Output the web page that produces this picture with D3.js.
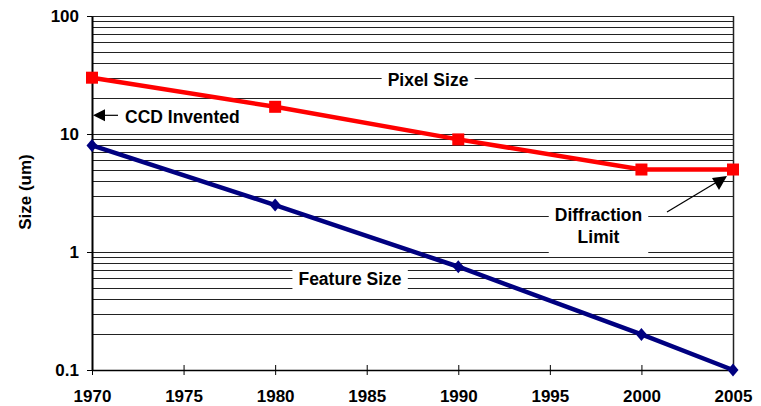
<!DOCTYPE html>
<html>
<head>
<meta charset="utf-8">
<script src="https://cdn.jsdelivr.net/npm/d3@7/dist/d3.min.js"></script>
<style>
  html, body { margin: 0; padding: 0; background: #fff; }
  svg { display: block; font-family: "Liberation Sans", Arial, sans-serif; font-weight: bold; }
</style>
</head>
<body>
<svg id="chart" width="761" height="406"></svg>
<script>
// Years on the x axis
const years = [1970, 1980, 1990, 2000, 2005];
// Sensor pixel size (um)
const pixelSize = [30, 17, 9, 5, 5];
// Minimum process feature size (um)
const featureSize = [8, 2.5, 0.75, 0.2, 0.1];
// Axis tick labels
const xTicks = [1970, 1975, 1980, 1985, 1990, 1995, 2000, 2005];
const yTicks = [0.1, 1, 10, 100];

const svg = d3.select("#chart");
const plotL = 92, plotR = 733, plotT = 16, plotB = 370;

const x = d3.scaleLinear().domain([1970, 2005]).range([plotL, plotR]);
const y = d3.scaleLog().domain([0.1, 100]).range([plotB, plotT]);

// Horizontal grid at every log minor step
const gridVals = [];
[0.1, 1, 10].forEach(d => { for (let k = 1; k <= 9; k++) gridVals.push(+(k * d).toPrecision(3)); });
gridVals.push(100);
const snap = v => Math.round(v) + 0.5;

svg.append("g").selectAll("line").data(gridVals).join("line")
  .attr("x1", plotL).attr("x2", plotR)
  .attr("y1", d => snap(y(d))).attr("y2", d => snap(y(d)))
  .attr("stroke", "#222").attr("stroke-width", 1);

// Right border of the plot
svg.append("line")
  .attr("x1", snap(plotR)).attr("x2", snap(plotR))
  .attr("y1", plotT).attr("y2", plotB)
  .attr("stroke", "#222").attr("stroke-width", 1.5);

// Y axis
const yAxis = svg.append("g").attr("transform", `translate(${plotL},0)`)
  .call(d3.axisLeft(y).tickValues(yTicks).tickFormat(d3.format("~g")).tickSize(5).tickSizeOuter(0));
yAxis.select(".domain").attr("stroke", "#000").attr("stroke-width", 2);
yAxis.selectAll(".tick line").attr("stroke", "#000");
yAxis.selectAll(".tick text")
  .attr("x", -13).attr("font-size", 17).attr("font-weight", "bold")
  .attr("font-family", "Liberation Sans, Arial, sans-serif").attr("fill", "#000");

// X axis with ticks crossing the baseline
const xAxis = svg.append("g").attr("transform", `translate(0,${plotB})`)
  .call(d3.axisBottom(x).tickValues(xTicks).tickFormat(d3.format("d")).tickSize(5).tickSizeOuter(0));
xAxis.select(".domain").attr("stroke", "#000").attr("stroke-width", 1.5);
xAxis.selectAll(".tick line").attr("y1", -5).attr("y2", 5).attr("stroke", "#000");
xAxis.selectAll(".tick text")
  .attr("y", 20).attr("font-size", 17).attr("font-weight", "bold")
  .attr("font-family", "Liberation Sans, Arial, sans-serif").attr("fill", "#000");

// Axis title
svg.append("text")
  .attr("transform", "translate(31,192) rotate(-90)")
  .attr("text-anchor", "middle").attr("font-size", 17)
  .text("Size (um)");

// Text labels on white boxes
function boxedLabel(lines, cx, baseline, lineGap, padX, padY) {
  const g = svg.append("g");
  const rect = g.append("rect").attr("fill", "#fff");
  const t = g.append("text").attr("text-anchor", "middle").attr("font-size", 17.5).attr("fill", "#000");
  lines.forEach((s, i) => t.append("tspan").attr("x", cx).attr("y", baseline + i * lineGap).text(s));
  const b = t.node().getBBox();
  rect.attr("x", b.x - padX).attr("y", b.y - padY)
    .attr("width", b.width + 2 * padX).attr("height", b.height + 2 * padY);
  return g;
}
boxedLabel(["Pixel Size"], 428, 86, 0, 6, 4);
boxedLabel(["Feature Size"], 350, 285, 0, 6, 5);
boxedLabel(["Diffraction", "Limit"], 598.5, 221, 22, 6, 6);

// Data lines and markers
const line = d3.line().x((d, i) => x(years[i])).y(d => y(d));

svg.append("path").datum(featureSize)
  .attr("d", line).attr("fill", "none")
  .attr("stroke", "#000080").attr("stroke-width", 4.5);
svg.append("path").datum(pixelSize)
  .attr("d", line).attr("fill", "none")
  .attr("stroke", "#ff0000").attr("stroke-width", 4.5);

svg.append("g").selectAll("path").data(featureSize).join("path")
  .attr("transform", (d, i) => `translate(${x(years[i])},${y(d)})`)
  .attr("d", "M0,-6.5L5.5,0L0,6.5L-5.5,0Z")
  .attr("fill", "#000080");
svg.append("g").selectAll("rect").data(pixelSize).join("rect")
  .attr("x", (d, i) => x(years[i]) - 6).attr("y", d => y(d) - 6)
  .attr("width", 12).attr("height", 12)
  .attr("fill", "#ff0000");

// Annotation: CCD invented
const ccdY = y(14.4), ccdX = x(1970);
svg.append("line")
  .attr("x1", ccdX + 26).attr("x2", ccdX + 10).attr("y1", ccdY).attr("y2", ccdY)
  .attr("stroke", "#000").attr("stroke-width", 1.2);
svg.append("path")
  .attr("d", `M${ccdX + 1},${ccdY}L${ccdX + 13},${ccdY - 6}L${ccdX + 13},${ccdY + 6}Z`)
  .attr("fill", "#000");
svg.append("text")
  .attr("x", 125).attr("y", 123).attr("font-size", 17.5).attr("fill", "#000")
  .text("CCD Invented");

// Annotation: diffraction limit arrow
const tipX = x(2005) - 6, tipY = y(5) + 6.5;
svg.append("line")
  .attr("x1", tipX - 60).attr("y1", tipY + 36).attr("x2", tipX - 10).attr("y2", tipY + 6)
  .attr("stroke", "#000").attr("stroke-width", 1.2);
svg.append("path")
  .attr("d", `M${tipX},${tipY}L${tipX - 15},${tipY + 2}L${tipX - 8},${tipY + 14}Z`)
  .attr("fill", "#000");
</script>
</body>
</html>
